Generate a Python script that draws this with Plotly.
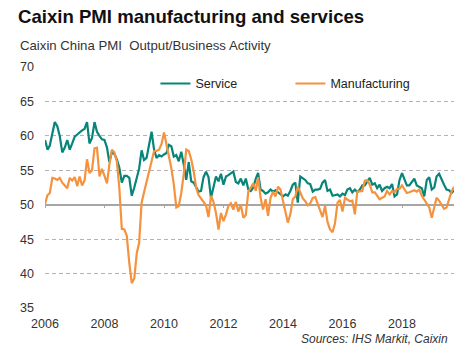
import pandas as pd
import plotly.graph_objects as go

months = pd.date_range("2006-01-01", periods=166, freq="MS")

service = [
    59.4, 58.0, 58.6, 60.2, 62.0, 61.4, 60.0, 57.6, 58.3, 59.4, 58.0, 58.9,
    59.9, 60.2, 60.5, 60.8, 61.0, 62.0, 58.9, 59.7, 62.0, 60.6, 60.0, 59.5,
    59.4, 58.3, 56.2, 57.6, 57.4, 56.6, 55.4, 53.2, 54.2, 54.2, 53.9, 51.3,
    52.5, 54.1, 55.2, 57.9, 56.5, 56.8, 58.6, 60.6, 58.0, 56.8, 57.2, 57.0,
    57.3, 57.5, 58.7, 58.5, 57.0, 57.2, 56.3, 57.7, 55.8, 53.6, 56.2, 53.4,
    53.2, 52.5, 51.9, 52.0, 54.0, 54.8, 54.0, 51.0, 52.8, 54.1, 53.4, 54.5,
    52.9, 54.1, 54.3, 54.6, 54.8, 53.3, 53.1, 53.8, 52.8, 53.8, 52.2, 52.0,
    52.5, 53.8, 54.6, 52.2, 52.0, 51.6, 51.8, 52.2, 51.9, 52.1, 51.8, 51.4,
    51.2, 51.5, 51.3, 52.0, 52.9, 53.2, 50.3, 54.1, 53.8, 53.6, 53.1, 53.0,
    51.9, 52.2, 52.2, 52.3, 53.2, 53.6, 52.0, 52.2, 51.3, 51.4, 51.5, 51.2,
    51.6, 51.4, 52.2, 52.4, 51.8, 52.2, 51.8, 52.2, 52.8, 52.8, 53.4, 53.9,
    52.9, 53.1, 52.4, 52.9, 52.0, 52.4, 52.6, 52.4, 53.0, 51.2, 51.5, 53.6,
    54.6, 53.6, 52.8, 52.8, 53.3, 53.8, 52.8, 52.6, 52.4, 51.2, 53.6, 54.0,
    52.2, 52.5, 54.1, 54.5, 53.6, 52.9, 52.2, 52.1, 51.7, 52.1,
]

manufacturing = [
    50.1, 51.4, 51.7, 53.9, 53.8, 53.6, 53.9, 53.2, 52.8, 52.4, 53.9, 53.5,
    54.0, 52.7, 54.1, 52.8, 53.5, 56.6, 54.6, 55.0, 58.2, 58.3, 54.1, 55.2,
    54.2, 53.1, 55.8, 58.0, 57.6, 56.3, 52.5, 46.5, 46.4, 45.5, 41.5, 38.6,
    39.3, 43.0, 44.4, 50.3, 51.8, 53.4, 54.6, 56.5, 57.8, 57.8, 58.0, 58.8,
    60.5, 58.7, 57.2, 55.3, 53.0, 49.6, 49.8, 51.7, 54.5, 58.0, 57.8, 56.6,
    54.8, 52.4, 51.4, 50.8, 50.4, 49.9, 48.2, 51.3, 50.4, 48.8, 46.4, 48.8,
    47.6, 48.6, 49.8, 50.2, 49.3, 50.4, 49.0, 50.0, 48.1, 48.5, 51.9, 52.5,
    53.1, 52.0, 54.0, 51.0, 49.3, 50.8, 48.4, 51.0, 51.9, 51.2, 52.6, 52.2,
    50.4, 48.8, 47.4, 48.6, 50.8, 51.2, 52.6, 51.8, 50.9, 50.5, 49.9, 50.2,
    51.0, 51.1, 50.2, 49.0, 48.2, 49.8, 47.5, 46.4, 46.0, 47.3, 50.3, 50.7,
    49.0, 51.0, 50.8, 50.5, 50.6, 48.6, 51.9, 51.9, 52.0, 53.5, 53.6, 52.9,
    51.8, 51.8, 51.3, 50.8, 51.0, 51.2, 52.0, 51.5, 52.0, 51.8, 52.3, 52.3,
    52.8, 52.2, 51.7, 51.8, 51.9, 52.1, 51.9, 52.2, 51.3, 50.8, 50.2, 49.6,
    48.1, 49.9, 51.0, 50.6, 50.0, 49.4, 49.6, 50.7, 51.9, 52.6,
]

y_ticks = [35, 40, 45, 50, 55, 60, 65, 70]
title_text = "Caixin PMI manufacturing and services"
subtitle_text = "Caixin China PMI  Output/Business Activity"
source_text = "Sources: IHS Markit, Caixin"

TEAL = "#068578"
ORANGE = "#f5923e"
FONT = "Liberation Sans, Arial, sans-serif"
ymin, ymax = 35, 70
x_start, x_end = months[0], months[-1]

fig = go.Figure()
fig.add_trace(go.Scatter(x=months, y=service, mode="lines", name="Service",
                         line=dict(color=TEAL, width=2.2), xaxis="x", yaxis="y"))
fig.add_trace(go.Scatter(x=months, y=manufacturing, mode="lines", name="Manufacturing",
                         line=dict(color=ORANGE, width=2.2), xaxis="x2", yaxis="y"))

fig.update_layout(
    width=476, height=354,
    margin=dict(l=45, r=22, t=67, b=46),
    paper_bgcolor="white", plot_bgcolor="white",
    font=dict(family=FONT, size=12, color="#333333"),
    showlegend=True,
    legend=dict(orientation="h", x=0.27, xanchor="left", y=0.93, yanchor="middle",
                font=dict(size=12.5, color="#222222"),
                entrywidth=90, entrywidthmode="pixels",
                bgcolor="rgba(255,255,255,0)"),
    xaxis=dict(range=[x_start, x_end], tick0="2006-01-01", dtick="M24", tickformat="%Y",
               showgrid=False, showline=False, zeroline=False, ticks="",
               ticklabelstandoff=6, tickfont=dict(size=12.5, color="#333333")),
    xaxis2=dict(range=[x_start, x_end], matches="x", overlaying="x", anchor="free",
                position=(50 - ymin) / (ymax - ymin),
                tick0="2006-01-01", dtick="M24", showticklabels=False,
                showgrid=False, zeroline=False, showline=True, linecolor="#a6a6a6",
                linewidth=1.5, ticks="outside", ticklen=3, tickcolor="#a6a6a6",
                layer="below traces"),
    yaxis=dict(range=[ymin, ymax], tickvals=y_ticks, showgrid=True,
               gridcolor="#b3b3b3", griddash="4px,3px", gridwidth=1,
               zeroline=False, showline=False, ticks="",
               ticklabelstandoff=10, tickfont=dict(size=12.5, color="#333333")),
)

fig.add_annotation(text="<b>" + title_text + "</b>", xref="paper", yref="paper",
                   x=-0.072, y=1.0, xanchor="left", yanchor="bottom", showarrow=False,
                   yshift=38, font=dict(size=18.6, color="#111111", family=FONT))
fig.add_annotation(text=subtitle_text, xref="paper", yref="paper",
                   x=-0.067, y=1.0, xanchor="left", yanchor="bottom", showarrow=False,
                   yshift=12, font=dict(size=13.2, color="#333333", family=FONT))
fig.add_annotation(text="<i>" + source_text + "</i>", xref="paper", yref="paper",
                   x=0.99, y=0, xanchor="right", yanchor="top", showarrow=False,
                   yshift=-22, font=dict(size=12, color="#333333", family=FONT))

fig.write_html("out.html")
